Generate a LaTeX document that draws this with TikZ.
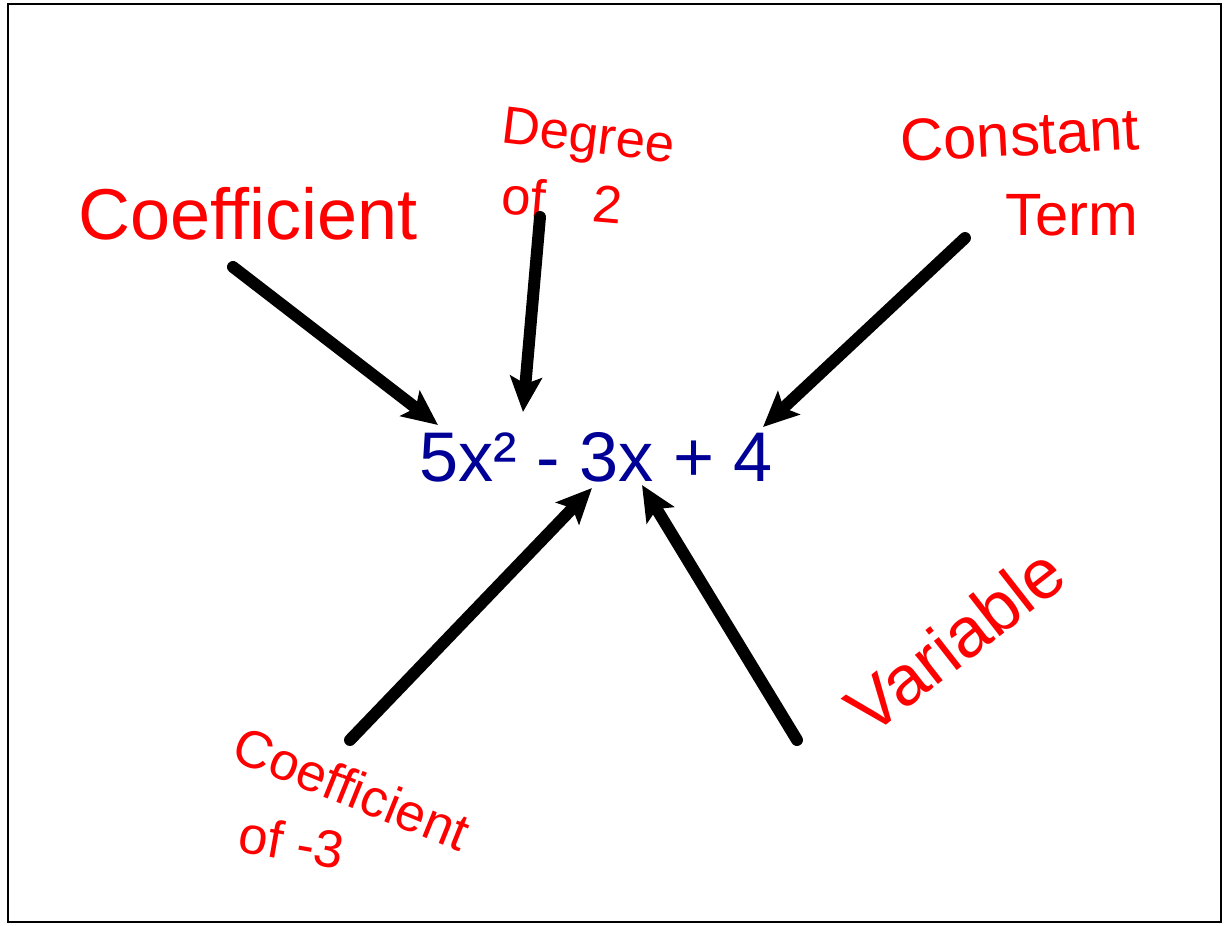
\documentclass[tikz,border=0pt]{standalone}
\usepackage{fontspec}
\setmainfont{Liberation Sans}
\usetikzlibrary{arrows.meta}
\definecolor{polyblue}{RGB}{0,0,150}
\definecolor{inkred}{RGB}{255,0,0}
\begin{document}
\begin{tikzpicture}[x=0.02cm, y=-0.02cm,
    poly/.style={text=polyblue, inner sep=0pt, font=\fontsize{40}{44}\selectfont},
    note/.style={text=inkred, inner sep=0pt, align=center},
    pointer/.style={-{Stealth[length=20pt, width=18pt, inset=4pt]},
                    line width=6.8pt, line cap=round, draw=black}]

  % ---- frame
  \useasboundingbox (0,0) rectangle (1225,926);
  \draw[line width=1.4pt] (8,4) rectangle (1221,922);

  % ---- the polynomial
  \node[poly] (expr) at (596,457) {5x² - 3x + 4};

  % ---- handwritten labels
  \node[note, font=\fontsize{41}{46}\selectfont] (coefA) at (248,214) {Coefficient};
  \node[note, font=\fontsize{30}{34}\selectfont, rotate=-7] (degree) at (588,140) {Degree};
  \node[note, font=\fontsize{30}{34}\selectfont, rotate=-5] (degOf) at (562,200) {of\hspace{0.9em}2};
  \node[note, font=\fontsize{34}{38}\selectfont, rotate=3] (const) at (1020,135) {Constant};
  \node[note, font=\fontsize{34}{38}\selectfont] (term) at (1072,215) {Term};
  \node[note, font=\fontsize{40}{44}\selectfont, rotate=38] (var) at (955,640) {Variable};
  \node[note, font=\fontsize{30}{34}\selectfont, rotate=-22] (coefB) at (352,788) {Coefficient};
  \node[note, font=\fontsize{30}{34}\selectfont, rotate=-10] (coefOf) at (292,842) {of -3};

  % ---- arrow ends
  \coordinate (coefTail)  at (233,267);
  \coordinate (coefTip)   at (438,425);
  \coordinate (degTail)   at (540,217);
  \coordinate (degTip)    at (523,412);
  \coordinate (constTail) at (965,238);
  \coordinate (constTip)  at (763,427);
  \coordinate (threeTail) at (350,740);
  \coordinate (threeTip)  at (592,488);
  \coordinate (varTail)   at (797,740);
  \coordinate (varTip)    at (642,485);

  % ---- pointers
  \draw[pointer] (coefTail) -- (coefTip);
  \draw[pointer] (degTail) -- (degTip);
  \draw[pointer] (constTail) -- (constTip);
  \draw[pointer] (threeTail) -- (threeTip);
  \draw[pointer] (varTail) -- (varTip);
\end{tikzpicture}
\end{document}
